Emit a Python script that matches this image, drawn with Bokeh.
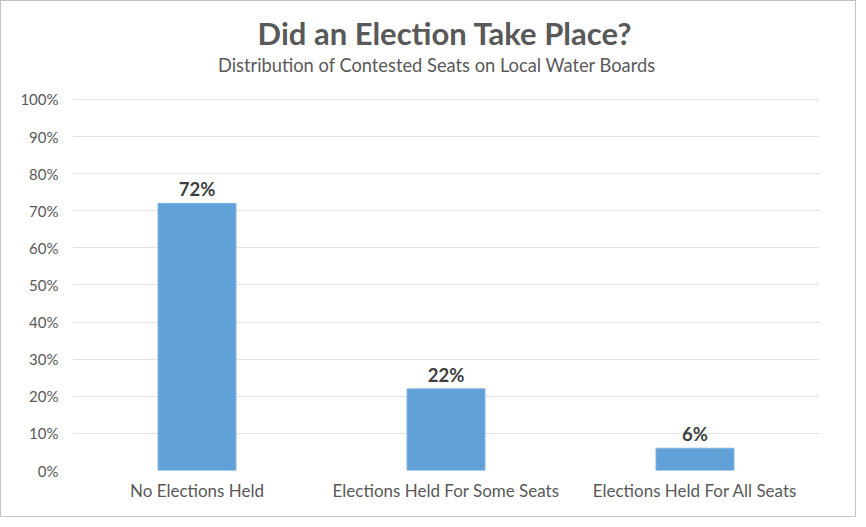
from bokeh.plotting import figure
from bokeh.models import ColumnDataSource, FixedTicker, CustomJSTickFormatter
from bokeh.embed import file_html
from bokeh.resources import INLINE
from bokeh.core.properties import value

categories = ["No Elections Held", "Elections Held For Some Seats", "Elections Held For All Seats"]
shares = [72, 22, 6]
labels = ["72%", "22%", "6%"]
y_ticks = [0, 10, 20, 30, 40, 50, 60, 70, 80, 90, 100]
title_text = "Did an Election Take Place?"
subtitle_text = "Distribution of Contested Seats on Local Water Boards"

FONT = "Lato"
GREY = "#595959"

source = ColumnDataSource(data=dict(cat=categories, val=shares, lab=labels))

# frame extends up to the top edge so the titles can sit in data space above 100%
p = figure(
    x_range=categories,
    y_range=(0, 126.4),
    width=856,
    height=517,
    output_backend="svg",
    toolbar_location=None,
    min_border_left=71,
    min_border_right=38,
    min_border_top=0,
    min_border_bottom=48,
)
p.styles = {"border": "1px solid #c4c4c4"}

p.vbar(x="cat", top="val", width=0.313, source=source, fill_color="#62A1D8", line_color="#7fb3e0", line_width=1)
p.text(x="cat", y="val", text="lab", source=source, text_align="center", text_baseline="bottom",
       y_offset=-3, text_font=value(FONT), text_font_style="bold", text_font_size="18.5px", text_color="#404040")

mid = categories[len(categories) // 2]
p.text(x=[mid], y=[118.0], text=[title_text], text_align="center", text_baseline="middle",
       x_offset=-1, text_font=value(FONT), text_font_style="bold", text_font_size="31px", text_color=GREY)
p.text(x=[mid], y=[109.2], text=[subtitle_text], text_align="center", text_baseline="middle",
       x_offset=-9, text_font=value(FONT), text_font_size="18.3px", text_color=GREY)

p.yaxis.ticker = FixedTicker(ticks=y_ticks)
p.yaxis.formatter = CustomJSTickFormatter(code="return tick + '%';")

for ax in (p.xaxis, p.yaxis):
    ax.axis_line_color = None
    ax.major_tick_line_color = None
    ax.minor_tick_line_color = None
    ax.major_label_text_font = FONT
    ax.major_label_text_color = GREY
p.yaxis.major_label_text_font_size = "15px"
p.xaxis.major_label_text_font_size = "17px"
p.yaxis.major_label_standoff = 8
p.xaxis.major_label_standoff = 3

p.xgrid.grid_line_color = None
p.ygrid.grid_line_color = "#e3e3e3"
p.ygrid.ticker = FixedTicker(ticks=y_ticks)
p.outline_line_color = None
p.x_range.range_padding = 0

open("out.html", "w").write(file_html(p, INLINE))
